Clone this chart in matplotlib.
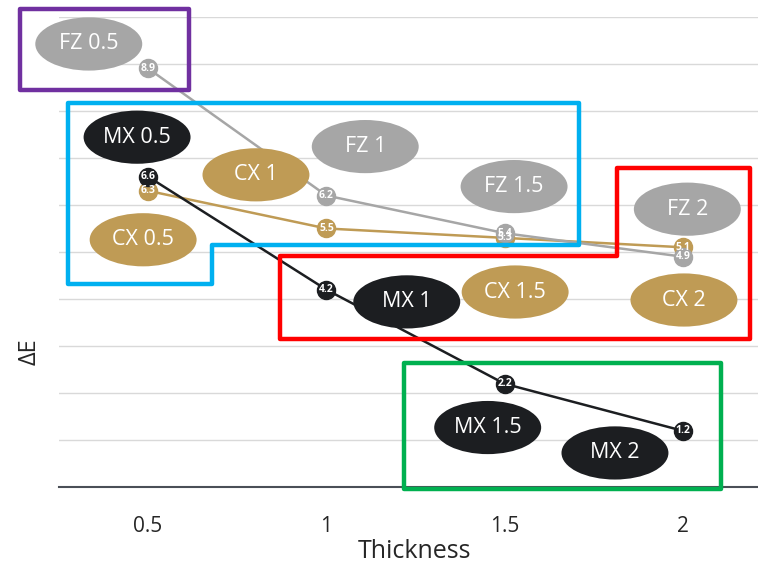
import matplotlib
matplotlib.use("Agg")
import matplotlib.pyplot as plt
from matplotlib.patches import Ellipse, Polygon

# data
thickness = ["0.5", "1", "1.5", "2"]
fz_values = [8.9, 6.2, 5.4, 4.9]
cx_values = [6.3, 5.5, 5.3, 5.1]
mx_values = [6.6, 4.2, 2.2, 1.2]

series_names = ["CX", "FZ", "MX"]
series_colors = {"FZ": "#a6a6a6", "CX": "#bf9b55", "MX": "#1c1e21"}
series_values = {"FZ": fz_values, "CX": cx_values, "MX": mx_values}

# callout positions (category index, value)
callouts = {
    "FZ 0.5": (-0.333, 9.42), "FZ 1": (1.218, 7.24), "FZ 1.5": (2.053, 6.39), "FZ 2": (3.025, 5.91),
    "CX 0.5": (-0.028, 5.26), "CX 1": (0.605, 6.64), "CX 1.5": (2.059, 4.15), "CX 2": (3.006, 3.98),
    "MX 0.5": (-0.062, 7.44), "MX 1": (1.451, 3.94), "MX 1.5": (1.905, 1.27), "MX 2": (2.619, 0.73),
}

# group frames
frames = [
    ("#7030a0", [(-0.717, 10.16), (0.230, 10.16), (0.230, 8.44), (-0.717, 8.44)]),
    ("#00b0f0", [(-0.448, 8.17), (2.420, 8.17), (2.420, 5.15), (0.359, 5.15), (0.359, 4.32), (-0.448, 4.32)]),
    ("#ff0000", [(0.739, 4.92), (2.633, 4.92), (2.633, 6.78), (3.378, 6.78), (3.378, 3.15), (0.739, 3.15)]),
    ("#00b050", [(1.434, 2.64), (3.216, 2.64), (3.216, -0.04), (1.434, -0.04)]),
]

plt.rcParams['font.family'] = ['Open Sans', 'DejaVu Sans']

fig = plt.figure(figsize=(7.58, 5.67), dpi=100)
ax = fig.add_axes([59 / 758, 79.7 / 567, 713 / 758, 470.6 / 567])
ax.set_xlim(-0.5, 3.5)
ax.set_ylim(0, 10)

x = list(range(len(thickness)))
for name in series_names:
    vals = series_values[name]
    col = series_colors[name]
    ax.plot(x, vals, color=col, linewidth=1.8, marker='o', markersize=13,
            markeredgecolor=col, zorder=3, clip_on=False)
    for xi, v in zip(x, vals):
        ax.text(xi, v, f"{v:g}", color='white', fontsize=7.5, fontweight='bold',
                ha='center', va='center', zorder=3.5)

for label, (cx, cy) in callouts.items():
    col = series_colors[label.split()[0]]
    ax.add_patch(Ellipse((cx, cy), 0.6, 1.13, facecolor=col, edgecolor='none', zorder=4, clip_on=False))
    ax.text(cx, cy, label, color='white', fontsize=15.5, ha='center', va='center', zorder=4.5)

for col, pts in frames:
    ax.add_patch(Polygon(pts, closed=True, fill=False, edgecolor=col, linewidth=3.2,
                         joinstyle='round', zorder=5, clip_on=False))

ax.set_yticks(range(0, 11))
ax.set_yticklabels([])
ax.tick_params(axis='y', length=0)
ax.set_xticks(x)
ax.set_xticklabels(thickness, fontsize=15, color='#262626')
ax.tick_params(axis='x', length=0, pad=21)
ax.grid(axis='y', color='#d9d9d9', linewidth=1)
ax.set_axisbelow(True)
for s in ['top', 'right', 'left']:
    ax.spines[s].set_visible(False)
ax.spines['bottom'].set_color('#4a4f57')
ax.spines['bottom'].set_linewidth(1.5)

fig.text(415 / 758, (567 - 551) / 567, "Thickness", fontsize=18, ha='center', va='center', color='#262626')
fig.text(30 / 758, (567 - 352) / 567, "ΔE", fontsize=17, rotation=90, ha='center', va='center', color='#262626')

fig.savefig("out.png", dpi=100)
